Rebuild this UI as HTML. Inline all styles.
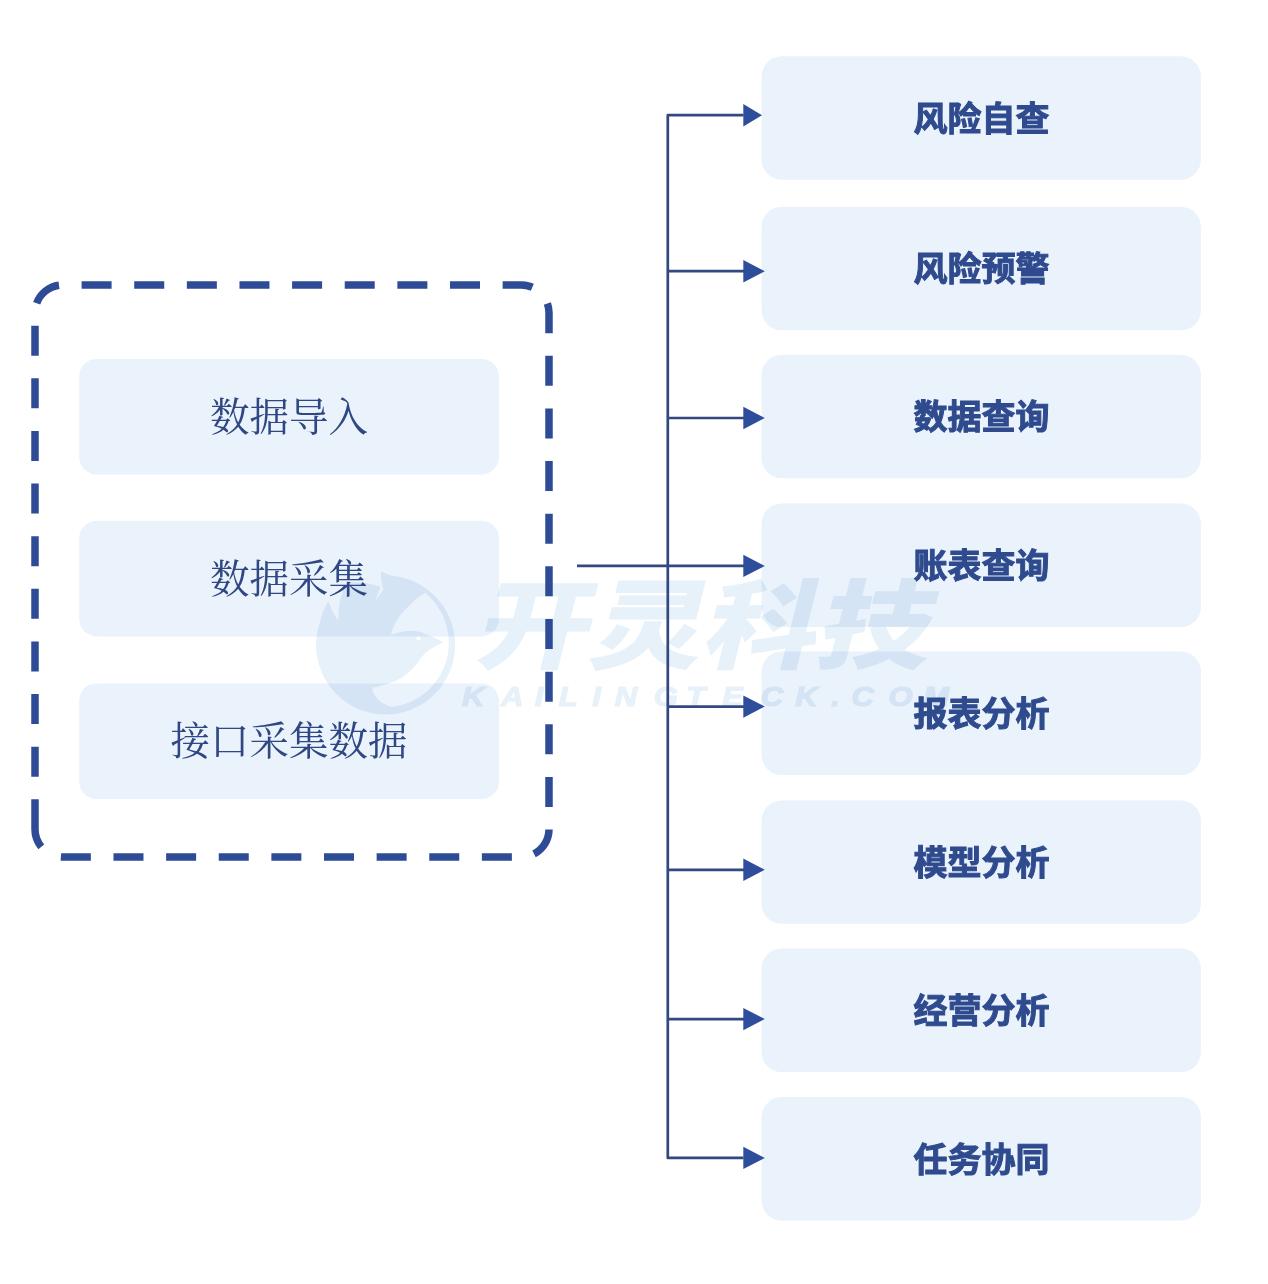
<!DOCTYPE html>
<html lang="zh-CN">
<head>
<meta charset="utf-8">
<title>数据采集与分析流程</title>
<style>
html,body{margin:0;padding:0;background:#fff;}
body{width:1268px;height:1284px;overflow:hidden;position:relative;}
svg{position:absolute;left:0;top:0;display:block;}
.tr{font-family:"Liberation Sans","Noto Sans CJK SC",sans-serif;font-weight:700;font-size:34px;fill:#2f4b8e;stroke:#2f4b8e;stroke-width:1px;}
.tl{font-family:"Liberation Serif","Noto Serif CJK SC",serif;font-weight:400;font-size:39.5px;fill:#2f4782;}
.wm1{font-family:"Liberation Sans","Noto Sans CJK SC",sans-serif;font-weight:900;font-size:97px;}
.wm2{font-family:"Liberation Sans",sans-serif;font-weight:700;font-style:italic;font-size:27px;stroke:#e7f1f9;stroke-width:1.2px;}
</style>
</head>
<body>
<svg width="1268" height="1284" viewBox="0 0 1268 1284">
<rect x="0" y="0" width="1268" height="1284" fill="#ffffff"/>

<g id="left-boxes">
<rect x="79.2" y="358.9" width="419.8" height="115.6" rx="17.5" ry="17.5" fill="#eaf2fb"/>
<rect x="79.2" y="520.8" width="419.8" height="115.6" rx="17.5" ry="17.5" fill="#eaf2fb"/>
<rect x="79.2" y="683.4" width="419.8" height="115.6" rx="17.5" ry="17.5" fill="#eaf2fb"/>
</g>
<g id="right-boxes">
<rect x="761.6" y="56.30" width="439.3" height="123.4" rx="20" ry="20" fill="#eaf2fb"/>
<rect x="761.6" y="206.85" width="439.3" height="123.4" rx="20" ry="20" fill="#eaf2fb"/>
<rect x="761.6" y="354.80" width="439.3" height="123.4" rx="20" ry="20" fill="#eaf2fb"/>
<rect x="761.6" y="503.60" width="439.3" height="123.4" rx="20" ry="20" fill="#eaf2fb"/>
<rect x="761.6" y="651.60" width="439.3" height="123.4" rx="20" ry="20" fill="#eaf2fb"/>
<rect x="761.6" y="800.40" width="439.3" height="123.4" rx="20" ry="20" fill="#eaf2fb"/>
<rect x="761.6" y="948.60" width="439.3" height="123.4" rx="20" ry="20" fill="#eaf2fb"/>
<rect x="761.6" y="1097.10" width="439.3" height="123.4" rx="20" ry="20" fill="#eaf2fb"/>
</g>
<g id="watermark" style="mix-blend-mode:multiply" fill="#e7f1f9">
<path fill-rule="evenodd" d="M381 571.5 Q386 574 392 575.8 A69.5 69.5 0 1 1 320 622 Q322 611 328.4 601.2 Q332 612 338.3 621 Q337.5 600 346.8 582.7 Q364 580.5 380.5 587 L374.5 602 L383.5 589.5 Q380.5 581 381 571.5 Z
M424.9 592.7 A64.5 64.5 0 0 1 392.3 706.9 Q382 705 376 697 Q372 692 372.4 687.8 Q388 685 402.2 677.8 Q414 669 422.1 656.5 Q427 650 443.4 642.3 Q434 637 427.8 635.2 Q414 628 399.4 632.4 L390.9 634.8 Q394 620 407.9 606.8 Q415 599 424.9 592.7 Z
M418.5 636.6 a2 2 0 1 0 0.01 0 Z"/>
<text class="wm1" transform="translate(473,661) skewX(-14) scale(1.17,1)" x="0" y="0">开灵科技</text>
<text class="wm2" transform="translate(462.0,706) scale(1.15,1)" x="0.0 34.0 63.3 84.2 113.2 132.9 166.7 195.1 226.4 259.7 289.7 321.0 338.7 370.8 401.1" y="0">KAILINGTECK.COM</text>
</g>
<path id="dashed" d="M35 829.3 L35 312.7 A27.7 27.7 0 0 1 62.7 285 L521.3 285 A27.7 27.7 0 0 1 549 312.7 L549 829.3 A27.7 27.7 0 0 1 521.3 857 L62.7 857 A27.7 27.7 0 0 1 35 829.3" fill="none" stroke="#2e4b96" stroke-width="7.5" stroke-dasharray="30 22.63"/>
<g id="connectors" stroke="#33487f" stroke-width="2.7" fill="none" stroke-linejoin="round" stroke-linecap="butt">
<path d="M743.5 115.2 L667.8 115.2 L667.8 1157.9 L743.5 1157.9"/>
<path d="M667.8 271.2 L744 271.2"/>
<path d="M667.8 418 L744 418"/>
<path d="M577 565.9 L744 565.9"/>
<path d="M667.8 706.6 L744 706.6"/>
<path d="M667.8 869.8 L744 869.8"/>
<path d="M667.8 1019.1 L744 1019.1"/>
</g>
<g id="arrowheads" fill="#2e4d9b">
<path d="M743.3 104.0 L762 115.2 L743.3 126.4 Z"/>
<path d="M743.3 260.0 L764.8 271.2 L743.3 282.4 Z"/>
<path d="M743.3 406.8 L764.8 418 L743.3 429.2 Z"/>
<path d="M743.3 554.7 L764.8 565.9 L743.3 577.1 Z"/>
<path d="M743.3 695.4 L764.8 706.6 L743.3 717.8 Z"/>
<path d="M743.3 858.6 L764.8 869.8 L743.3 881.0 Z"/>
<path d="M743.3 1007.9 L764.8 1019.1 L743.3 1030.3 Z"/>
<path d="M743.3 1146.7 L764.8 1157.9 L743.3 1169.1 Z"/>
</g>
<g id="labels-left" text-anchor="middle">
<text class="tl" x="289.1" y="430.7">数据导入</text>
<text class="tl" x="289.1" y="592.6">数据采集</text>
<text class="tl" x="289.1" y="755.2">接口采集数据</text>
</g>
<g id="labels-right" text-anchor="middle">
<text class="tr" x="981.5" y="130.8">风险自查</text>
<text class="tr" x="981.5" y="281.4">风险预警</text>
<text class="tr" x="981.5" y="429.3">数据查询</text>
<text class="tr" x="981.5" y="578.1">账表查询</text>
<text class="tr" x="981.5" y="726.1">报表分析</text>
<text class="tr" x="981.5" y="874.9">模型分析</text>
<text class="tr" x="981.5" y="1023.1">经营分析</text>
<text class="tr" x="981.5" y="1171.6">任务协同</text>
</g>
</svg>
</body>
</html>
